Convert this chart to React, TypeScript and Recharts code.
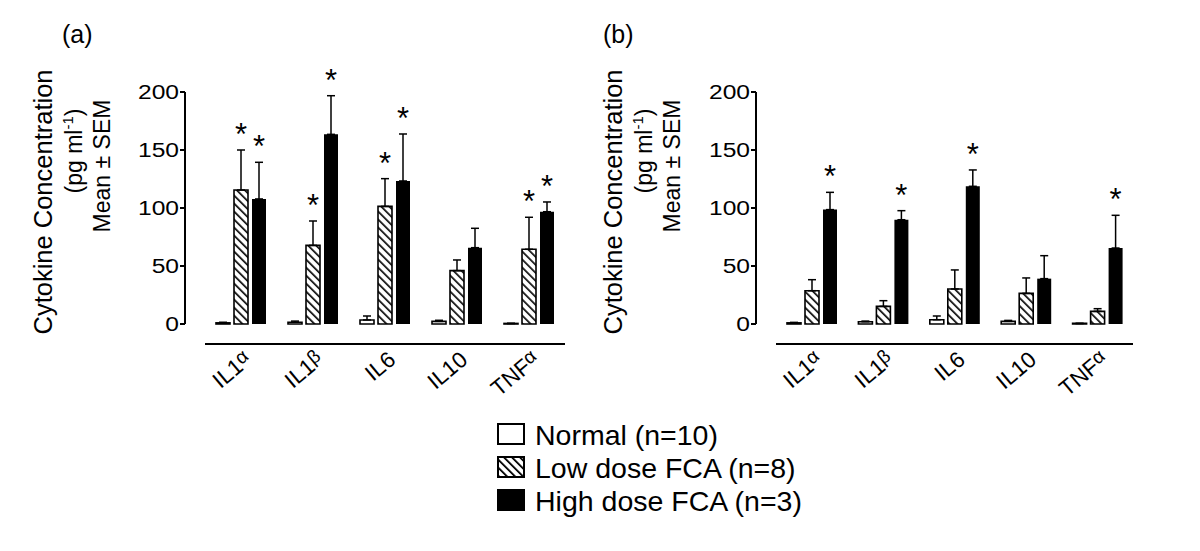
import React from 'react';
import { BarChart, Bar, XAxis, YAxis, ErrorBar, LabelList } from 'recharts';

const FONT = "'Liberation Sans', Arial, Helvetica, sans-serif";

const cytokines = ['IL1α', 'IL1β', 'IL6', 'IL10', 'TNFα'];
const yTicks = [0, 50, 100, 150, 200];

// panel (a)
const aNormal = [1, 1.5, 3.5, 2.3, 0.5];
const aNormalSem = [0.5, 1, 3.4, 0.9, 0];
const aLow = [115.5, 67.8, 101.4, 46, 64.4];
const aLowSem = [34.5, 21, 23.9, 9.2, 27.6];
const aHigh = [107.8, 163.5, 123.3, 65.8, 96.8];
const aHighSem = [31.6, 33.3, 40.5, 16.7, 8.4];
const aLowSig = [true, true, true, false, true];
const aHighSig = [true, true, true, false, true];

// panel (b)
const bNormal = [1, 2, 3.7, 2.3, 0.5];
const bNormalSem = [0.4, 0.5, 3.2, 0.8, 0];
const bLow = [28.7, 15.2, 30.2, 26.4, 10.9];
const bLowSem = [9.5, 4.9, 16.4, 13.3, 2.3];
const bHigh = [98.6, 89.9, 118.7, 39.1, 65.5];
const bHighSem = [14.9, 7.8, 14.1, 19.8, 28.2];
const bLowSig = [false, false, false, false, false];
const bHighSig = [true, true, true, false, true];

const legendItems = ['Normal (n=10)', 'Low dose FCA (n=8)', 'High dose FCA (n=3)'];

const makeRows = (
  normal: number[], normalSem: number[],
  low: number[], lowSem: number[],
  high: number[], highSem: number[],
  lowSig: boolean[], highSig: boolean[]
) =>
  cytokines.map((name, i) => ({
    name,
    normal: normal[i],
    normalErr: [0, normalSem[i]],
    low: low[i],
    lowErr: [0, lowSem[i]],
    lowStar: lowSig[i] ? lowSem[i] / low[i] : null,
    high: high[i],
    highErr: [0, highSem[i]],
    highStar: highSig[i] ? highSem[i] / high[i] : null,
  }));

const rowsA = makeRows(aNormal, aNormalSem, aLow, aLowSem, aHigh, aHighSem, aLowSig, aHighSig);
const rowsB = makeRows(bNormal, bNormalSem, bLow, bLowSem, bHigh, bHighSem, bLowSig, bHighSig);

const renderStar = (props: any) => {
  const vb = props.viewBox ?? props;
  const ratio = props.value;
  if (typeof ratio !== 'number') return null;
  const h = Math.abs(vb.height);
  const top = Math.min(vb.y, vb.y + vb.height);
  const errTop = top - ratio * h;
  return (
    <text x={vb.x + vb.width / 2} y={errTop - 5} textAnchor="middle" fontSize={31} fontFamily={FONT} fill="#000">
      *
    </text>
  );
};

const XTick = ({ x, y, payload }: any) => {
  const label: string = payload.value;
  const last = label.slice(-1);
  const greek = last === 'α' || last === 'β';
  const base = greek ? label.slice(0, -1) : label;
  return (
    <g transform={`translate(${x + 12},${y + 38}) rotate(-40)`}>
      <text textAnchor="end" fontSize={22.5} fontFamily={FONT} fill="#000">
        {base}
        {greek && <tspan fontSize={19} dy={-5}>{last}</tspan>}
      </text>
    </g>
  );
};

const YTick = ({ x, y, payload }: any) => (
  <g transform={`translate(${x},${y}) scale(1.2,1)`}>
    <text textAnchor="end" dy="0.36em" fontSize={20.5} fontFamily={FONT} fill="#000">
      {payload.value}
    </text>
  </g>
);

const Panel = ({ rows, id, left, marginRight }: any) => (
  <div style={{ position: 'absolute', left, top: 0 }}>
    <BarChart
      width={600}
      height={420}
      data={rows}
      margin={{ top: 92, right: marginRight, bottom: 16, left: 125 }}
      barSize={14}
      barGap={4}
    >
      <defs>
        <pattern id={id} patternUnits="userSpaceOnUse" width={8} height={5.66} patternTransform="rotate(45)">
          <rect width={8} height={5.66} fill="#fff" />
          <line x1={0} y1={1} x2={8} y2={1} stroke="#000" strokeWidth={1.6} />
        </pattern>
      </defs>
      <XAxis
        dataKey="name"
        axisLine={false}
        tickLine={false}
        tickSize={0}
        tickMargin={0}
        interval={0}
        height={80}
        padding={{ left: 20, right: 0 }}
        tick={<XTick />}
      />
      <YAxis
        domain={[0, 200]}
        ticks={yTicks}
        width={60}
        axisLine={{ stroke: '#000', strokeWidth: 2 }}
        tickLine={{ stroke: '#000', strokeWidth: 2 }}
        tickSize={5}
        tickMargin={1}
        tick={<YTick />}
      />
      <Bar dataKey="normal" fill="#fff" stroke="#000" strokeWidth={1.6} isAnimationActive={false}>
        <ErrorBar dataKey="normalErr" width={4} stroke="#000" strokeWidth={1.5} isAnimationActive={false} />
      </Bar>
      <Bar dataKey="low" fill={`url(#${id})`} stroke="#000" strokeWidth={1.6} isAnimationActive={false}>
        <ErrorBar dataKey="lowErr" width={4} stroke="#000" strokeWidth={1.5} isAnimationActive={false} />
        <LabelList dataKey="lowStar" content={renderStar} />
      </Bar>
      <Bar dataKey="high" fill="#000" isAnimationActive={false}>
        <ErrorBar dataKey="highErr" width={4} stroke="#000" strokeWidth={1.5} isAnimationActive={false} />
        <LabelList dataKey="highStar" content={renderStar} />
      </Bar>
    </BarChart>
  </div>
);

const YTitle = ({ dx }: { dx: number }) => (
  <g fontFamily={FONT} fill="#000">
    <text transform={`translate(${51.5 + dx},202) rotate(-90)`} textAnchor="middle" fontSize={25.5}>
      Cytokine Concentration
    </text>
    <text transform={`translate(${82 + dx},151) rotate(-90)`} textAnchor="middle" fontSize={23}>
      (pg ml<tspan fontSize={15} dy={-9}>-1</tspan>
      <tspan dy={9}>)</tspan>
    </text>
    <text transform={`translate(${110 + dx},166) rotate(-90)`} textAnchor="middle" fontSize={23}>
      Mean ± SEM
    </text>
  </g>
);

export default function App() {
  return (
    <div style={{ position: 'absolute', left: 0, top: 0, width: 1200, height: 551, background: '#fff' }}>
      <Panel rows={rowsA} id="hatch-a" left={0} marginRight={35} />
      <Panel rows={rowsB} id="hatch-b" left={571} marginRight={38} />
      <svg width={1200} height={551} style={{ position: 'absolute', left: 0, top: 0, pointerEvents: 'none' }}>
        <defs>
          <pattern id="hatch-legend" patternUnits="userSpaceOnUse" width={8} height={5.66} patternTransform="rotate(45)">
            <rect width={8} height={5.66} fill="#fff" />
            <line x1={0} y1={1} x2={8} y2={1} stroke="#000" strokeWidth={1.8} />
          </pattern>
        </defs>
        <text x={62} y={43} fontSize={25} fontFamily={FONT} fill="#000">(a)</text>
        <text x={603} y={43} fontSize={25} fontFamily={FONT} fill="#000">(b)</text>
        <YTitle dx={0} />
        <YTitle dx={570} />
        <line x1={205} y1={344} x2={565} y2={344} stroke="#000" strokeWidth={2.2} />
        <line x1={776} y1={344} x2={1133} y2={344} stroke="#000" strokeWidth={2.2} />
        {legendItems.map((label, i) => {
          const top = [424, 457, 490][i];
          const fill = i === 0 ? '#fff' : i === 1 ? 'url(#hatch-legend)' : '#000';
          return (
            <g key={label}>
              <rect x={498} y={top} width={26} height={20} fill={fill} stroke="#000" strokeWidth={2} />
              <text x={535} y={top + 21} fontSize={28.5} fontFamily={FONT} fill="#000">{label}</text>
            </g>
          );
        })}
      </svg>
    </div>
  );
}
